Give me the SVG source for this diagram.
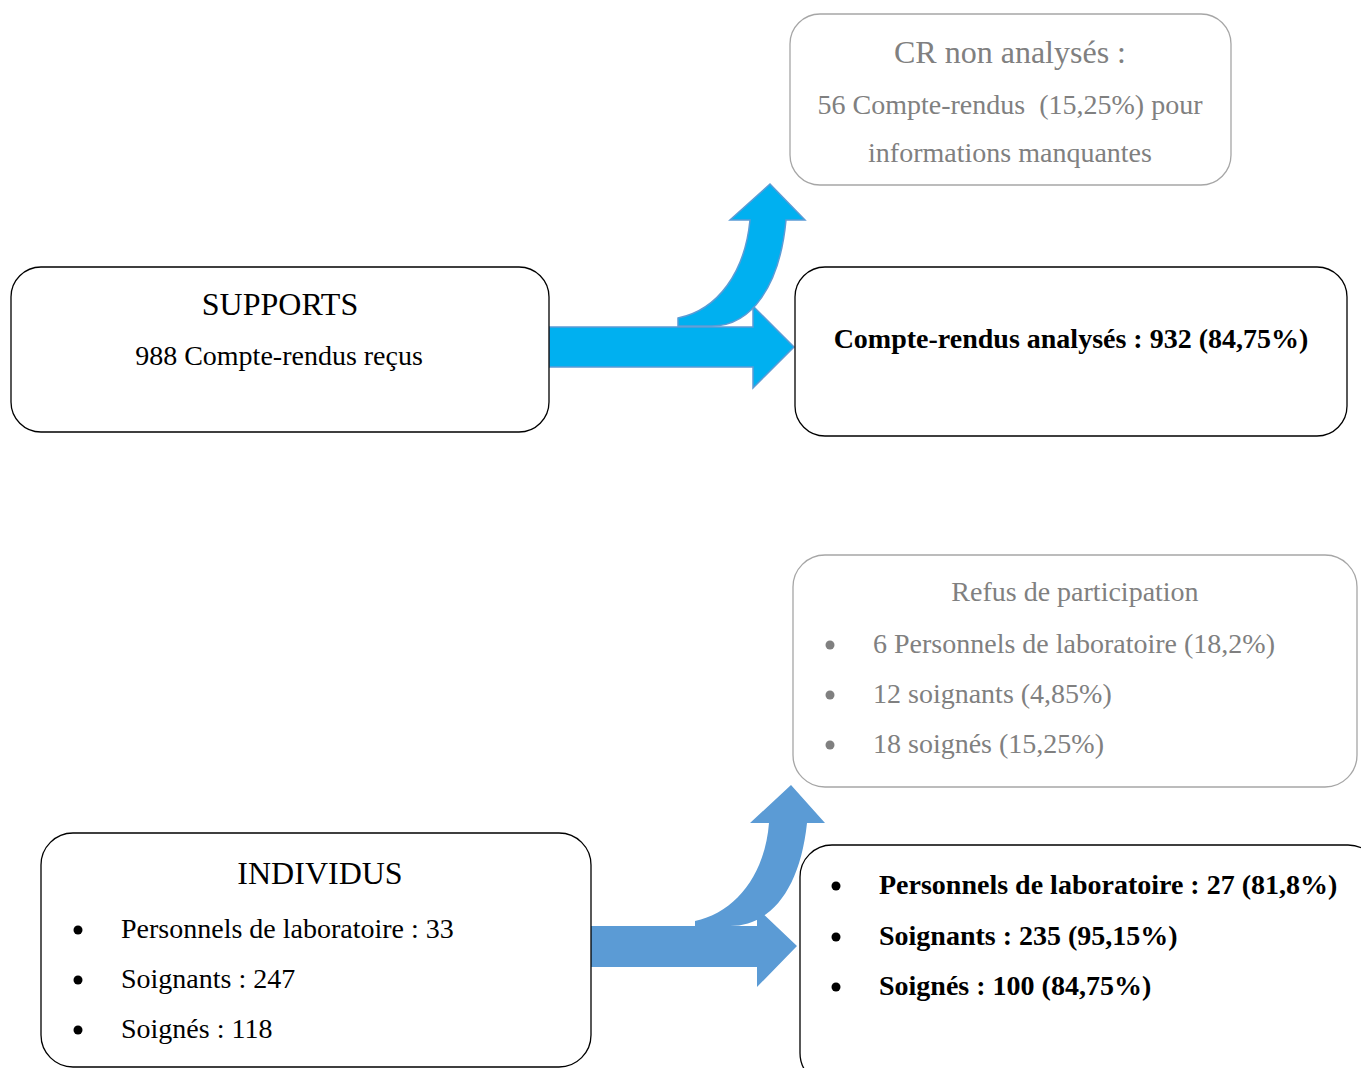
<svg xmlns="http://www.w3.org/2000/svg" width="1361" height="1068" viewBox="0 0 1361 1068">
<style>
.box{fill:#fff;stroke:#000;stroke-width:1.3}
.gbox{fill:#fff;stroke:#a6a6a6;stroke-width:1.3}
.t{font-family:"Liberation Serif","Times New Roman",serif;font-size:28px;fill:#000}
.h{font-size:32px}
.g{fill:#808080}
.b{font-weight:bold}
.m{text-anchor:middle}
.a1{fill:#00B0F0;stroke:#5B9BD5;stroke-width:1.5}
.a2{fill:#5B9BD5}
</style>
<rect width="1361" height="1068" fill="#fff"/>
<g id="connectors">
<path class="a1" d="M549,327 L753,327 L753,306 L794,347 L753,388 L753,367 L549,367 Z"/>
<path class="a1" d="M678,318 C718,310 745,272 750,220 L730,220 L770,184 L805,220 L786,220 C780,285 752,326 712,326 L678,326 Z"/>
<path class="a2" d="M591,926 L757,926 L757,908 L797,946 L757,987 L757,967 L591,967 Z"/>
<path class="a2" d="M695,921 C735,913 765,875 769,823 L750,823 L791,785 L825,823 L807,823 C800,890 770,926 730,926 L695,926 Z"/>
</g>
<g id="cr-non">
<rect class="gbox" x="790" y="14" width="441" height="171" rx="30"/>
<text class="t h g m" x="1010" y="63">CR non analysés :</text>
<text class="t g m" x="1010" y="114" xml:space="preserve">56 Compte-rendus  (15,25%) pour</text>
<text class="t g m" x="1010" y="162">informations manquantes</text>
</g>
<g id="supports">
<rect class="box" x="11" y="267" width="538" height="165" rx="30"/>
<text class="t h m" x="280" y="315">SUPPORTS</text>
<text class="t m" x="279" y="365">988 Compte-rendus reçus</text>
</g>
<g id="cr-analyses">
<rect class="box" x="795" y="267" width="552" height="169" rx="30"/>
<text class="t b m" x="1071" y="348">Compte-rendus analysés : 932 (84,75%)</text>
</g>
<g id="refus">
<rect class="gbox" x="793" y="555" width="564" height="232" rx="32"/>
<text class="t g m" x="1075" y="601">Refus de participation</text>
<circle cx="830" cy="645" r="4.5" fill="#808080"/>
<circle cx="830" cy="695" r="4.5" fill="#808080"/>
<circle cx="830" cy="745" r="4.5" fill="#808080"/>
<text class="t g" x="873" y="653">6 Personnels de laboratoire (18,2%)</text>
<text class="t g" x="873" y="703">12 soignants (4,85%)</text>
<text class="t g" x="873" y="753">18 soignés (15,25%)</text>
</g>
<g id="individus">
<rect class="box" x="41" y="833" width="550" height="234" rx="32"/>
<text class="t h m" x="320" y="884">INDIVIDUS</text>
<circle cx="78" cy="930" r="4.5"/>
<circle cx="78" cy="980" r="4.5"/>
<circle cx="78" cy="1030" r="4.5"/>
<text class="t" x="121" y="938">Personnels de laboratoire : 33</text>
<text class="t" x="121" y="988">Soignants : 247</text>
<text class="t" x="121" y="1038">Soignés : 118</text>
</g>
<g id="participants">
<rect class="box" x="800" y="845" width="580" height="240" rx="32"/>
<circle cx="836" cy="886" r="4.5"/>
<circle cx="836" cy="937" r="4.5"/>
<circle cx="836" cy="987" r="4.5"/>
<text class="t b" x="879" y="894">Personnels de laboratoire : 27 (81,8%)</text>
<text class="t b" x="879" y="945">Soignants : 235 (95,15%)</text>
<text class="t b" x="879" y="995">Soignés : 100 (84,75%)</text>
</g>
</svg>
